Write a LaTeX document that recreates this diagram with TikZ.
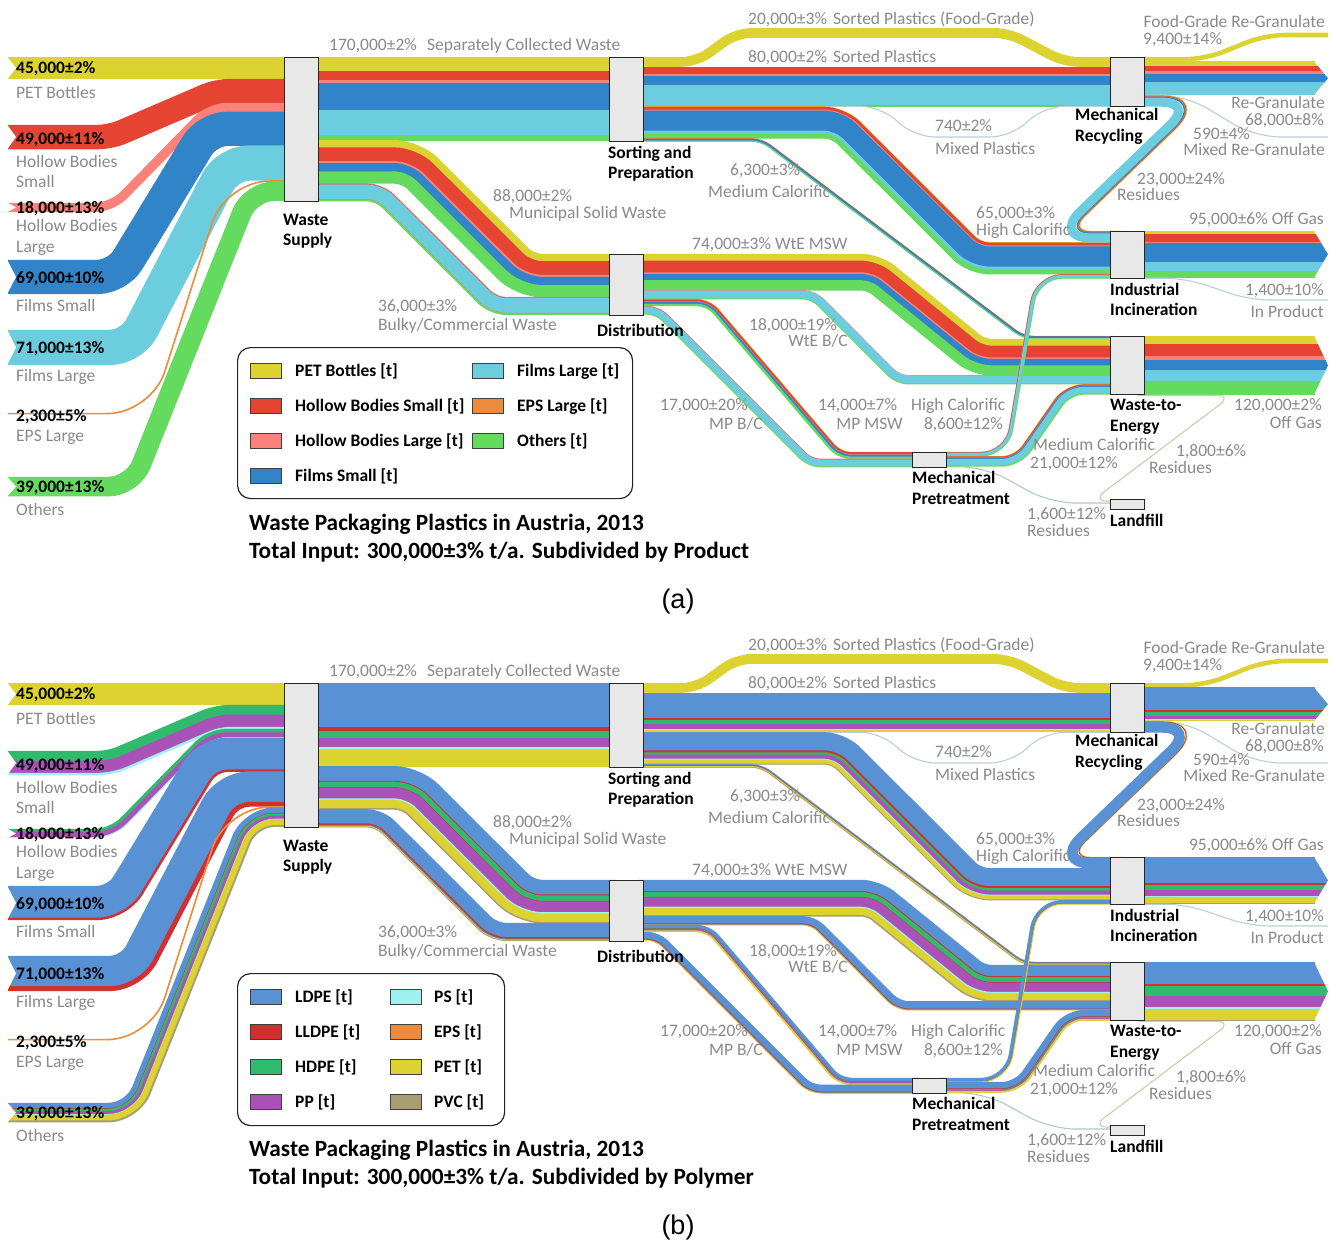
\documentclass[tikz,border=0pt]{standalone}
\usepackage{fontspec}
\setmainfont{Carlito}
\newfontfamily\panelfont{Liberation Sans}

% product colours
\definecolor{cY}{RGB}{220,211,48}
\definecolor{cR}{RGB}{229,68,50}
\definecolor{cP}{RGB}{250,130,122}
\definecolor{cB}{RGB}{50,132,200}
\definecolor{cL}{RGB}{108,205,222}
\definecolor{cO}{RGB}{236,140,60}
\definecolor{cG}{RGB}{100,218,95}
% polymer colours
\definecolor{bL}{RGB}{88,146,212}
\definecolor{bR}{RGB}{208,48,48}
\definecolor{bG}{RGB}{48,186,110}
\definecolor{bP}{RGB}{170,82,184}
\definecolor{bS}{RGB}{160,240,240}
\definecolor{bO}{RGB}{236,140,60}
\definecolor{bY}{RGB}{220,211,48}
\definecolor{bV}{RGB}{168,158,116}
% other colours
\definecolor{boxfill}{RGB}{232,232,232}
\definecolor{labgray}{RGB}{138,138,138}
\definecolor{thinA}{RGB}{185,208,220}
\definecolor{thinB}{RGB}{205,205,168}
\definecolor{thinC}{RGB}{172,205,192}

% pixels per 1000 t
\def\ktpx{0.49}

% A striped flow band.  Its top edge runs from (#1,#2) to the corner x #3,
% then straight to the corner x #4 at height #5, and on to #6.
% #7: bend radius of the centre line, #8: list colour/kt from top to bottom.
\newcommand\flowband[8]{%
  \pgfmathsetmacro\fbA{atan2((#5)-(#2),(#4)-(#3))}%
  \pgfmathsetmacro\fbK{tan(\fbA/2)}%
  \pgfmathsetmacro\fbS{(\fbA>0)-(\fbA<0)}%
  \gdef\fbW{0}%
  \foreach \fc/\fw in #8 {\pgfmathsetmacro\fbtmp{\fbW+\fw*\ktpx}\xdef\fbW{\fbtmp}}%
  \gdef\fbT{0}%
  \foreach \fc/\fw in #8 {%
    \pgfmathsetmacro\fbw{\fw*\ktpx}%
    \pgfmathsetmacro\fbd{\fbT+\fbw/2}%
    \pgfmathsetmacro\fbe{\fbd-\fbW/2}%
    \pgfmathsetmacro\fbca{max(0.01,((#7)-(\fbS)*(\fbe))*abs(\fbK))}%
    \pgfmathsetmacro\fbcb{max(0.01,((#7)+(\fbS)*(\fbe))*abs(\fbK))}%
    \pgfmathsetmacro\fblw{\fbw+0.5}%
    \draw[draw=\fc, line width=\fblw pt]
      ({#1},{(#2)+\fbd}) [rounded corners=\fbca pt]
      -- ({(#3)-\fbd*(\fbK)},{(#2)+\fbd})
      -- ({((#3)+(#4))/2-\fbd*(\fbK)},{((#2)+(#5))/2+\fbd}) [rounded corners=\fbcb pt]
      -- ({(#4)-\fbd*(\fbK)},{(#5)+\fbd})
      -- ({#6},{(#5)+\fbd});
    \pgfmathsetmacro\fbtmp{\fbT+\fbw}\xdef\fbT{\fbtmp}%
  }}

% straight output band ending in an arrow head: #1 top y, #2 bottom y, #3 list
\newcommand\arrowband[3]{%
  \flowband{1138}{#1}{1200}{1250}{#1}{1315}{10}{#3}%
  \begin{scope}
    \clip (1314,#1) -- (1328,{((#1)+(#2))/2}) -- (1314,#2) -- cycle;
    \flowband{1310}{#1}{1315}{1320}{#1}{1332}{10}{#3}%
  \end{scope}}

\tikzset{
  glab/.style={text=labgray, font=\fontsize{17.5}{20}\selectfont, inner sep=0pt},
  vlab/.style={text=black, font=\fontsize{17.5}{20}\selectfont\bfseries, inner sep=0pt},
  nlab/.style={text=black, font=\fontsize{17.5}{20}\selectfont\bfseries, inner sep=0pt},
  ttl/.style={text=black, font=\fontsize{23.3}{26}\selectfont\bfseries, inner sep=0pt},
  procbox/.style={draw=black!85, line width=1.3pt, fill=boxfill, inner sep=0pt, anchor=north west},
  swatch/.style={draw=black!75, line width=0.9pt, minimum width=31pt, minimum height=15pt, inner sep=0pt, anchor=north west},
  legbox/.style={draw=black!85, line width=1.2pt, rounded corners=13pt, inner sep=0pt, anchor=north west},
  thin/.style={line width=1.1pt, rounded corners=#1},
}

\newcounter{lblno}
\newcommand\lblL[3]{\stepcounter{lblno}\node[glab,anchor=base west] (t\arabic{lblno}) at (#1,#2) {#3};}
\newcommand\lblR[3]{\stepcounter{lblno}\node[glab,anchor=base east] (t\arabic{lblno}) at (#1,#2) {#3};}
\newcommand\lblV[3]{\stepcounter{lblno}\node[vlab,anchor=base west] (t\arabic{lblno}) at (#1,#2) {#3};}
\newcommand\lblN[3]{\stepcounter{lblno}\node[nlab,anchor=base west] (t\arabic{lblno}) at (#1,#2) {#3};}

% one complete flow chart; #1 is a prefix for the process node names
\newcommand\drawpanel[1]{%
  % inputs into Waste Supply
  \flowband{8}{57}{100}{200}{57}{300}{30}{\Lpet}
  \flowband{8}{125}{108}{215}{79.05}{300}{60}{\Lhbs}
  \flowband{8}{203}{110}{208}{103.06}{300}{40}{\Lhbl}
  \flowband{8}{260}{108}{198}{111.88}{300}{35}{\Lfs}
  \flowband{8}{330}{121}{217}{145.69}{300}{35}{\Lfl}
  \flowband{8}{413}{151}{225}{180.48}{300}{60}{\Leps}
  \flowband{8}{477}{126}{244}{181.61}{300}{35}{\Loth}
  % Waste Supply outputs
  \flowband{305}{57}{400}{500}{57}{615}{10}{\Lsep}
  \flowband{305}{140.3}{420}{534}{254}{615}{40}{\Lmsw}
  \flowband{305}{183.42}{383}{497}{297.1}{615}{30}{\Lbulky}
  % Sorting and Preparation outputs
  \draw[cY, line width=9.8pt, rounded corners=15pt]
    (637,61.9) -- (696.6,61.9) -- (736.6,32.9) -- (1008.8,32.9) -- (1063.8,61.9) -- (1116,61.9);
  \flowband{637}{66.8}{700}{800}{66.8}{1116}{10}{\Lsorted}
  \draw[thinA, thin=20pt] (640,106.2) -- (880,106.2) -- (915,137) -- (1010,137) -- (1045,106.2) -- (1116,106.2);
  \flowband{637}{106.4}{845}{981}{242.3}{1116}{35}{\Lhical}
  \flowband{637}{138.3}{762}{1024}{336}{1116}{30}{\Lmedcal}
  % Distribution outputs
  \flowband{637}{254}{880}{985}{339.1}{1116}{35}{\Lwtemsw}
  \flowband{637}{290.3}{815}{900}{375.4}{1116}{25}{\Lwtebc}
  \flowband{637}{299.1}{710}{841}{452}{918}{25}{\Lmpmsw}
  \flowband{637}{306}{659}{812}{458.9}{918}{25}{\Lmpbc}
  % Mechanical Recycling outputs
  \draw[cY, line width=4.6pt, rounded corners=20pt] (1138,59.3) -- (1205,59.3) -- (1265,35) -- (1328,35);
  \arrowband{61.6}{94.9}{\Lrg}
  \draw[thinA, thin=25pt] (1138,95.05) -- (1185,95.05) -- (1255,137) -- (1328,137);
  \flowband{1130}{95.2}{1211}{1070}{231}{1125}{14}{\Lres}
  % Industrial Incineration outputs
  \arrowband{231}{277.6}{\Liiog}
  \draw[thinA, thin=20pt] (1138,278.2) -- (1185,278.2) -- (1250,300) -- (1328,300);
  % Waste-to-Energy outputs
  \arrowband{336}{394.8}{\Lwteog}
  \draw[thinB, thin=15pt] (1138,395.3) -- (1232,395.3) -- (1092,501) -- (1116,501);
  % Mechanical Pretreatment outputs
  \draw[thinC, thin=25pt] (940,466.8) -- (985,466.8) -- (1050,503) -- (1116,503);
  \flowband{940}{452}{1005}{1035}{274.2}{1116}{30}{\Lmphc}
  \flowband{940}{456.2}{1015}{1065}{384.2}{1116}{30}{\Lmpmc}
  % tails of the input bands
  \foreach \tp/\bt in {57/79.05, 125/149.01, 203/211.82, 260/293.81, 330/364.79, 477/496.11}
    {\fill[white] (7,\tp-0.6) -- (16,{(\tp+\bt)/2}) -- (7,\bt+0.6) -- cycle;}
  % process boxes
  \node[procbox, minimum width=34pt, minimum height=144pt] (#1ws) at (284,57) {};
  \node[procbox, minimum width=34pt, minimum height=84pt] (#1sp) at (609,57) {};
  \node[procbox, minimum width=34pt, minimum height=61pt] (#1di) at (609,254) {};
  \node[procbox, minimum width=34pt, minimum height=49pt] (#1mr) at (1110,57) {};
  \node[procbox, minimum width=34pt, minimum height=47pt] (#1ii) at (1110,231) {};
  \node[procbox, minimum width=34pt, minimum height=58pt] (#1we) at (1110,336) {};
  \node[procbox, minimum width=34pt, minimum height=15pt] (#1mp) at (912,452) {};
  \node[procbox, minimum width=34pt, minimum height=10pt] (#1lf) at (1110,499) {};
  % process names
  \lblN{283}{225}{Waste}\lblN{283}{245}{Supply}
  \lblN{608}{158}{Sorting and}\lblN{608}{178}{Preparation}
  \lblN{597}{336.7}{Distribution}
  \lblN{1075}{120}{Mechanical}\lblN{1075}{141.7}{Recycling}
  \lblN{1110}{295}{Industrial}\lblN{1110}{315.7}{Incineration}
  \lblN{1110}{410}{Waste-to-}\lblN{1110}{431.7}{Energy}
  \lblN{912}{483}{Mechanical}\lblN{912}{504}{Pretreatment}
  \lblN{1110}{526}{Landfill}
  % input labels
  \lblV{16}{73.3}{45,000±2\%}\lblL{16}{98}{PET Bottles}
  \lblV{16}{144}{49,000±11\%}\lblL{16}{167}{Hollow Bodies}\lblL{16}{187.5}{Small}
  \lblV{16}{213}{18,000±13\%}\lblL{16}{231.5}{Hollow Bodies}\lblL{16}{252}{Large}
  \lblV{16}{283}{69,000±10\%}\lblL{16}{311.7}{Films Small}
  \lblV{16}{353}{71,000±13\%}\lblL{16}{381.5}{Films Large}
  \lblV{16}{421.7}{2,300±5\%}\lblL{16}{441.5}{EPS Large}
  \lblV{16}{492.3}{39,000±13\%}\lblL{16}{515}{Others}
  % flow labels
  \lblL{329}{50}{170,000±2\%}\lblL{427}{50}{Separately Collected Waste}
  \lblL{748}{24}{20,000±3\%}\lblL{833}{24}{Sorted Plastics (Food-Grade)}
  \lblL{748}{62}{80,000±2\%}\lblL{833}{62}{Sorted Plastics}
  \lblR{1325}{27}{Food-Grade Re-Granulate}\lblL{1143}{44}{9,400±14\%}
  \lblL{935}{131}{740±2\%}\lblL{935}{154}{Mixed Plastics}
  \lblR{1325}{108}{Re-Granulate}\lblR{1324}{125}{68,000±8\%}
  \lblL{1193}{139.3}{590±4\%}\lblR{1325}{155}{Mixed Re-Granulate}
  \lblL{730}{175.7}{6,300±3\%}\lblL{708}{197.3}{Medium Calorific}
  \lblL{1137}{184}{23,000±24\%}\lblL{1117}{200.7}{Residues}
  \lblL{493}{201.7}{88,000±2\%}\lblL{509}{218}{Municipal Solid Waste}
  \lblR{1324}{224}{95,000±6\% Off Gas}
  \lblL{976}{218.3}{65,000±3\%}\lblL{976}{235}{High Calorific}
  \lblL{692}{249.3}{74,000±3\% WtE MSW}
  \lblR{1324}{295}{1,400±10\%}\lblR{1324}{317}{In Product}
  \lblL{378}{311}{36,000±3\%}\lblL{378}{330}{Bulky/Commercial Waste}
  \lblL{749}{330}{18,000±19\%}\lblR{848}{346.7}{WtE B/C}
  \lblL{660}{410.7}{17,000±20\%}\lblR{763}{429}{MP B/C}
  \lblL{818}{410.7}{14,000±7\%}\lblR{903}{429}{MP MSW}
  \lblL{911}{410.7}{High Calorific}\lblR{1003}{429}{8,600±12\%}
  \lblR{1322}{410.7}{120,000±2\%}\lblR{1322}{428}{Off Gas}
  \lblL{1033}{450}{Medium Calorific}\lblL{1030}{468}{21,000±12\%}
  \lblL{1176}{456.7}{1,800±6\%}\lblL{1149}{473.3}{Residues}
  \lblL{1027}{519.3}{1,600±12\%}\lblL{1027}{536.7}{Residues}
}

\begin{document}
\begin{tikzpicture}[x=1pt, y=-1pt]
\useasboundingbox (0,0) rectangle (1336,1240);
\fill[white] (0,0) rectangle (1336,1240);

% ---------- subdivided by product ----------
\begin{scope}
  \def\Lpet{cY/45}\def\Lhbs{cR/49}\def\Lhbl{cP/18}\def\Lfs{cB/69}
  \def\Lfl{cL/71}\def\Leps{cO/2.3}\def\Loth{cG/39}
  \def\Lsep{cY/29,cR/19,cP/6,cB/54,cL/51,cO/1,cG/10}
  \def\Lmsw{cY/15,cR/28,cP/4,cB/17,cG/24}
  \def\Lbulky{cP/1.5,cR/1,cL/30,cO/1,cG/2.5}
  \def\Lsorted{cY/1,cR/15,cP/4,cB/17,cL/42,cO/0.5,cG/0.5}
  \def\Lhical{cY/1,cR/6,cP/2,cB/41,cL/6,cG/9}
  \def\Lmedcal{cY/0.5,cR/1,cB/3.5,cL/0.8,cG/0.5}
  \def\Lwtemsw{cY/14,cR/24,cP/3,cB/13,cG/20}
  \def\Lwtebc{cP/1,cL/16,cG/1}
  \def\Lmpmsw{cY/1,cR/4,cP/1,cB/4,cL/0.5,cG/3.5}
  \def\Lmpbc{cP/1,cR/0.5,cL/14.5,cG/1}
  \def\Lrg{cY/10,cR/10,cP/6,cB/17,cL/25}
  \def\Lres{cY/1.5,cR/1.5,cP/0.5,cB/2,cL/17.5}
  \def\Liiog{cY/6,cR/16,cP/4,cB/38,cL/18,cG/13}
  \def\Lwteog{cY/17,cR/25,cP/8,cB/19,cL/23,cG/28}
  \def\Lmphc{cP/0.6,cR/1.2,cL/6,cG/0.8}
  \def\Lmpmc{cY/1,cR/2.5,cP/0.5,cB/2,cL/13,cG/2}
  \drawpanel{a}
  % legend
  \node[legbox, minimum width=395pt, minimum height=151pt] (aleg) at (237,347) {};
  \node[swatch, fill=cY] (as1) at (250,363) {};
  \node[swatch, fill=cR] (as2) at (250,398) {};
  \node[swatch, fill=cP] (as3) at (250,433) {};
  \node[swatch, fill=cB] (as4) at (250,468) {};
  \node[swatch, fill=cL] (as5) at (472,363) {};
  \node[swatch, fill=cO] (as6) at (472,398) {};
  \node[swatch, fill=cG] (as7) at (472,433) {};
  \lblN{295}{376.5}{PET Bottles [t]}
  \lblN{295}{411.5}{Hollow Bodies Small [t]}
  \lblN{295}{446.5}{Hollow Bodies Large [t]}
  \lblN{295}{481.5}{Films Small [t]}
  \lblN{517}{376.5}{Films Large [t]}
  \lblN{517}{411.5}{EPS Large [t]}
  \lblN{517}{446.5}{Others [t]}
  \node[ttl, anchor=base west] (atitle1) at (249,530) {Waste Packaging Plastics in Austria, 2013};
  \node[ttl, anchor=base west] (atitle2) at (249,558) {Total Input: 300,000±3\% t/a. Subdivided by Product};
  \node[inner sep=0pt, anchor=base, font=\panelfont\fontsize{27}{30}\selectfont] (acap) at (678,608) {(a)};
\end{scope}

% ---------- subdivided by polymer ----------
\begin{scope}[shift={(0,626)}]
  \def\Lpet{bY/45}\def\Lhbs{bG/20,bP/25,bS/4}\def\Lhbl{bG/7,bP/10,bS/1}
  \def\Lfs{bL/65,bR/4}\def\Lfl{bL/62,bR/9}\def\Leps{bO/2.3}
  \def\Loth{bL/11,bR/1,bG/5,bP/6,bS/1,bY/12,bV/3}
  \def\Lsep{bL/91,bR/8,bG/14,bP/18,bS/4,bO/1,bY/34}
  \def\Lmsw{bL/30,bR/2,bG/11,bR/1,bP/22,bS/3,bY/17,bV/2}
  \def\Lbulky{bL/29,bR/3,bG/1,bP/1,bS/0.5,bY/1,bV/0.5}
  \def\Lsorted{bL/52,bR/4,bG/9,bP/9,bS/2,bO/1,bY/3}
  \def\Lhical{bL/37,bR/4,bG/5,bP/8,bS/2,bY/8,bV/1}
  \def\Lmedcal{bL/2,bR/0.5,bG/0.5,bP/1,bY/2,bV/0.3}
  \def\Lwtemsw{bL/23,bR/2,bG/10,bR/1,bP/19,bS/3,bY/14,bV/2}
  \def\Lwtebc{bL/15,bR/1.5,bG/0.5,bP/0.5,bY/0.5}
  \def\Lmpmsw{bL/7,bR/0.5,bG/1,bP/3,bY/2.5}
  \def\Lmpbc{bL/14,bR/1.5,bG/0.5,bP/0.5,bY/0.5}
  \def\Lrg{bL/46,bR/4,bG/8,bP/7,bS/1,bY/2}
  \def\Lres{bY/1,bO/0.5,bR/0.5,bL/21}
  \def\Liiog{bL/54,bR/3,bG/10,bP/13,bS/2,bY/12,bV/1}
  \def\Lwteog{bL/45,bR/5,bG/20,bP/22,bS/4,bY/22,bV/2}
  \def\Lmphc{bL/7,bR/0.5,bY/1.1}
  \def\Lmpmc{bL/13,bR/1.5,bG/1.5,bP/2,bY/3}
  \drawpanel{b}
  % legend
  \node[legbox, minimum width=267pt, minimum height=152pt] (bleg) at (237,347) {};
  \node[swatch, fill=bL] (bs1) at (250,363) {};
  \node[swatch, fill=bR] (bs2) at (250,398) {};
  \node[swatch, fill=bG] (bs3) at (250,433) {};
  \node[swatch, fill=bP] (bs4) at (250,468) {};
  \node[swatch, fill=bS] (bs5) at (390,363) {};
  \node[swatch, fill=bO] (bs6) at (390,398) {};
  \node[swatch, fill=bY] (bs7) at (390,433) {};
  \node[swatch, fill=bV] (bs8) at (390,468) {};
  \lblN{295}{376.5}{LDPE [t]}
  \lblN{295}{411.5}{LLDPE [t]}
  \lblN{295}{446.5}{HDPE [t]}
  \lblN{295}{481.5}{PP [t]}
  \lblN{434}{376.5}{PS [t]}
  \lblN{434}{411.5}{EPS [t]}
  \lblN{434}{446.5}{PET [t]}
  \lblN{434}{481.5}{PVC [t]}
  \node[ttl, anchor=base west] (btitle1) at (249,530) {Waste Packaging Plastics in Austria, 2013};
  \node[ttl, anchor=base west] (btitle2) at (249,558) {Total Input: 300,000±3\% t/a. Subdivided by Polymer};
  \node[inner sep=0pt, anchor=base, font=\panelfont\fontsize{27}{30}\selectfont] (bcap) at (678,608) {(b)};
\end{scope}
\end{tikzpicture}
\end{document}
